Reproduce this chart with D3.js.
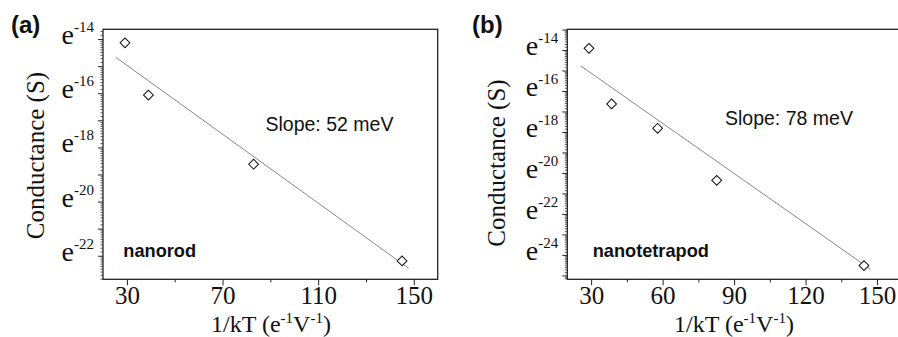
<!DOCTYPE html>
<html><head><meta charset="utf-8">
<script src="https://cdn.jsdelivr.net/npm/d3@7"></script>
<style>body{margin:0;background:#fff}svg{display:block}</style>
</head><body>
<svg id="c" width="898" height="337"></svg>
<script>
// Panel (a) nanorod
const xA = [29.2, 39.0, 83.0, 145.1];
const yA = [-14.14, -16.07, -18.62, -22.19];
const fitAx = [25.3, 147.8];
const fitAy = [-14.67, -22.46];
const xTicksA = [30, 70, 110, 150];
const xMinorA = [50, 90, 130];
const yTicksA = [-14, -16, -18, -20, -22];
// Panel (b) nanotetrapod
const xB = [29.1, 38.6, 57.9, 82.7, 144.5];
const yB = [-13.92, -16.63, -17.82, -20.36, -24.52];
const fitBx = [25.7, 147.3];
const fitBy = [-14.78, -24.70];
const xTicksB = [30, 60, 90, 120, 150];
const xMinorB = [45, 75, 105, 135];
const yTicksB = [-14, -16, -18, -20, -22, -24];

const svg = d3.select("#c");
const serif = "'Liberation Serif','Times New Roman',serif";
const sans = "'Liberation Sans',Arial,sans-serif";

function panel(o) {
  const g = svg.append("g");
  const x = d3.scaleLinear().domain(o.xDom).range([o.left, o.right]);
  const y = d3.scaleLinear().domain(o.yDom).range([o.bottom, o.top]);
  // frame
  g.append("rect").attr("x", o.left).attr("y", o.top)
    .attr("width", o.right - o.left).attr("height", o.bottom - o.top)
    .attr("fill", "none").attr("stroke", "#222").attr("stroke-width", 1.3);
  // x axis
  const xa = g.append("g").attr("transform", `translate(0,${o.bottom})`)
    .call(d3.axisBottom(x).tickValues(o.xTicks).tickSize(6).tickFormat(d3.format("d")));
  xa.select(".domain").remove();
  xa.selectAll("line").attr("stroke", "#222");
  xa.selectAll("text").attr("font-family", serif).attr("font-size", 25)
    .attr("fill", "#111").attr("dy", null).attr("y", 24.5);
  const xm = g.append("g").attr("transform", `translate(0,${o.bottom})`)
    .call(d3.axisBottom(x).tickValues(o.xMinor).tickSize(3).tickFormat(""));
  xm.select(".domain").remove();
  xm.selectAll("line").attr("stroke", "#222");
  // y minor ticks (log-e style)
  const minor = [];
  for (let n = Math.floor(o.yDom[0]); n <= Math.ceil(o.yDom[1]); n++) {
    for (let k = 1; k <= 9; k++) {
      const v = n + Math.log(1 + k * (Math.E - 1) / 10);
      if (v > o.yDom[0] && v < o.yDom[1]) minor.push(v);
    }
  }
  const ym = g.append("g").attr("transform", `translate(${o.left},0)`)
    .call(d3.axisLeft(y).tickValues(minor).tickSize(2.5).tickFormat(""));
  ym.select(".domain").remove();
  ym.selectAll("line").attr("stroke", "#333").attr("stroke-width", 0.8);
  const ints = d3.range(Math.ceil(o.yDom[0]), Math.floor(o.yDom[1]) + 1);
  const yj = g.append("g").attr("transform", `translate(${o.left},0)`)
    .call(d3.axisLeft(y).tickValues(ints).tickSize(5).tickFormat(""));
  yj.select(".domain").remove();
  yj.selectAll("line").attr("stroke", "#222");
  // y labels e^n
  const yl = g.append("g");
  o.yTicks.forEach(t => {
    const tx = yl.append("text").attr("x", o.left - 9).attr("y", y(t) + 5)
      .attr("text-anchor", "end").attr("font-family", serif).attr("fill", "#111");
    tx.append("tspan").attr("font-size", 28).text("e");
    tx.append("tspan").attr("font-size", 15).attr("dy", -12).text(String(t));
  });
  // fit line
  g.append("line")
    .attr("x1", x(o.fitX[0])).attr("y1", y(o.fitY[0]))
    .attr("x2", x(o.fitX[1])).attr("y2", y(o.fitY[1]))
    .attr("stroke", "#888").attr("stroke-width", 1);
  // points
  const sym = d3.symbol().type(d3.symbolSquare).size(48);
  g.selectAll("path.pt").data(o.xs.map((v, i) => [v, o.ys[i]])).join("path")
    .attr("class", "pt").attr("d", sym)
    .attr("transform", d => `translate(${x(d[0])},${y(d[1])}) rotate(45)`)
    .attr("fill", "#fff").attr("stroke", "#111").attr("stroke-width", 1);
  // annotations
  g.append("text").attr("x", o.slopeX).attr("y", o.slopeY)
    .attr("font-family", sans).attr("font-size", 19.5).attr("fill", "#111").text(o.slope);
  g.append("text").attr("x", o.nameX).attr("y", 256.5)
    .attr("font-family", sans).attr("font-weight", "bold").attr("font-size", 18.2)
    .attr("fill", "#111").text(o.name);
  // panel letter
  g.append("text").attr("x", o.letterX).attr("y", 33)
    .attr("font-family", sans).attr("font-weight", "bold").attr("font-size", 24)
    .attr("fill", "#111").text(o.letter);
  // y title
  g.append("text").attr("transform", `translate(${o.yTitleX},${o.yTitleY}) rotate(-90)`)
    .attr("text-anchor", "middle").attr("font-family", serif).attr("font-size", 25)
    .attr("fill", "#111").text("Conductance (S)");
  // x title
  const xt = g.append("text").attr("x", o.xTitleX).attr("y", 331.5)
    .attr("text-anchor", "middle").attr("font-family", serif).attr("font-size", 24).attr("fill", "#111");
  xt.append("tspan").text("1/kT (e");
  xt.append("tspan").attr("font-size", 15).attr("dy", -8.5).text("-1");
  xt.append("tspan").attr("dy", 8.5).text("V");
  xt.append("tspan").attr("font-size", 15).attr("dy", -8.5).text("-1");
  xt.append("tspan").attr("dy", 8.5).text(")");
}

panel({
  left: 103, right: 437.7, top: 29.3, bottom: 279.3,
  xDom: [20, 160], yDom: [-22.87, -13.64],
  xTicks: xTicksA, xMinor: xMinorA, yTicks: yTicksA,
  xs: xA, ys: yA, fitX: fitAx, fitY: fitAy,
  slope: "Slope: 52 meV", slopeX: 265.5, slopeY: 131,
  name: "nanorod", nameX: 123.3, letter: "(a)", letterX: 11,
  yTitleX: 44, yTitleY: 155.5, xTitleX: 271
});
panel({
  left: 567.3, right: 900.9, top: 29.3, bottom: 279.3,
  xDom: [20, 160], yDom: [-25.19, -12.99],
  xTicks: xTicksB, xMinor: xMinorB, yTicks: yTicksB,
  xs: xB, ys: yB, fitX: fitBx, fitY: fitBy,
  slope: "Slope: 78 meV", slopeX: 725, slopeY: 125,
  name: "nanotetrapod", nameX: 592.7, letter: "(b)", letterX: 472,
  yTitleX: 505, yTitleY: 163, xTitleX: 734
});
</script>
</body></html>
